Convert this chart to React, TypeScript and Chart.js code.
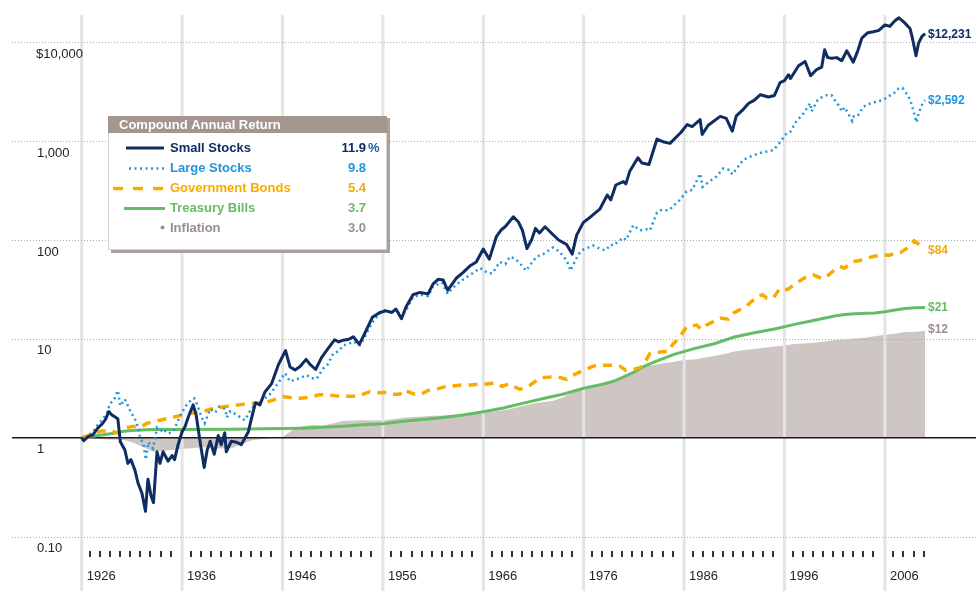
import React, { useEffect, useRef } from "react";
import { Chart, registerables } from "chart.js";

Chart.register(...registerables);

const FONT = "'Liberation Sans', Arial, Helvetica, sans-serif";

// ---- Data: [year position, growth of $1] ----
const smallStocks: [number, number][] = [
  [1926.0, 1.0], [1926.2, 0.93], [1926.6, 1.02], [1927.1, 1.07], [1927.6, 1.25], [1928.1, 1.4],
  [1928.4, 1.55], [1928.7, 1.84], [1929.0, 1.7], [1929.3, 1.63], [1929.6, 1.55], [1929.85, 0.91],
  [1930.3, 0.75], [1930.6, 0.55], [1930.9, 0.6], [1931.3, 0.47], [1931.6, 0.35], [1932.0, 0.275],
  [1932.35, 0.18], [1932.6, 0.38], [1932.9, 0.26], [1933.15, 0.22], [1933.5, 0.72], [1933.8, 0.55],
  [1934.1, 0.72], [1934.6, 0.58], [1935.0, 0.66], [1935.25, 0.6], [1935.6, 0.85], [1936.0, 1.15],
  [1936.3, 1.3], [1936.6, 1.6], [1937.1, 2.15], [1937.4, 1.7], [1937.8, 0.9], [1938.2, 0.5],
  [1938.5, 0.75], [1938.8, 0.92], [1939.2, 0.68], [1939.6, 1.05], [1939.9, 0.85], [1940.25, 1.12],
  [1940.4, 0.72], [1940.9, 0.92], [1941.4, 0.9], [1941.9, 0.85], [1942.2, 0.97], [1942.6, 1.15],
  [1942.9, 1.55], [1943.3, 2.25], [1943.75, 2.15], [1944.25, 2.9], [1944.9, 3.5], [1945.6, 5.5],
  [1946.3, 7.6], [1946.75, 5.2], [1947.25, 4.85], [1947.75, 5.25], [1948.35, 6.2], [1948.75, 5.5],
  [1949.3, 4.9], [1949.9, 6.5], [1950.55, 8.0], [1951.2, 9.8], [1951.6, 9.3], [1952.05, 9.7],
  [1952.6, 9.9], [1953.05, 10.5], [1953.65, 8.8], [1954.2, 11.4], [1954.95, 16.5], [1955.7, 18.5],
  [1956.3, 19.2], [1956.9, 18.5], [1957.3, 20.0], [1957.85, 16.0], [1958.3, 21], [1959.0, 28],
  [1959.7, 29.5], [1960.5, 28.5], [1961.0, 36], [1961.5, 40], [1962.0, 39.5], [1962.45, 31],
  [1963.3, 41], [1964.0, 47], [1964.7, 55], [1965.3, 60], [1966.0, 81], [1966.6, 64],
  [1967.3, 108], [1967.8, 127], [1968.2, 137], [1969.0, 172], [1969.5, 152], [1969.9, 125],
  [1970.35, 82], [1970.8, 100], [1971.2, 131], [1971.6, 118], [1972.15, 136], [1972.8, 117],
  [1973.5, 100], [1974.3, 90], [1974.85, 72], [1975.3, 112], [1975.95, 150], [1976.8, 175],
  [1977.6, 205], [1978.35, 285], [1978.7, 255], [1979.2, 360], [1979.95, 390], [1980.2, 370],
  [1980.6, 500], [1981.4, 680], [1981.8, 600], [1982.5, 580], [1983.3, 1050], [1984.0, 980],
  [1984.6, 950], [1985.7, 1230], [1986.3, 1470], [1986.8, 1400], [1987.6, 1650], [1987.8, 1170],
  [1988.4, 1450], [1989.6, 1780], [1990.2, 1700], [1990.8, 1260], [1991.2, 1800], [1991.9, 2100],
  [1992.4, 2400], [1993.0, 2600], [1993.6, 2950], [1994.4, 2800], [1995.0, 2900], [1995.55, 3900],
  [1996.0, 4100], [1996.4, 4700], [1996.6, 4300], [1997.4, 5800], [1998.05, 6400], [1998.6, 4600],
  [1999.2, 5300], [1999.7, 5600], [2000.0, 8400], [2000.3, 7000], [2000.7, 6900], [2001.2, 7000],
  [2001.7, 6500], [2002.2, 8200], [2002.85, 6300], [2003.3, 8200], [2003.7, 11000], [2004.3, 12500],
  [2004.85, 12800], [2005.4, 13200], [2006.0, 15000], [2006.5, 14500], [2007.0, 16500], [2007.4, 17700],
  [2007.9, 16000], [2008.5, 13800], [2008.7, 11500], [2009.1, 7300], [2009.35, 9800], [2009.7, 11500],
  [2010.0, 12231],
];

const largeStocks: [number, number][] = [
  [1926.0, 1.0], [1926.3, 0.95], [1926.8, 1.08], [1927.15, 1.15], [1927.6, 1.35], [1928.0, 1.5],
  [1928.5, 1.75], [1928.8, 2.2], [1929.2, 2.4], [1929.6, 3.0], [1929.85, 2.1], [1930.3, 2.45],
  [1930.8, 1.9], [1931.2, 1.6], [1931.45, 1.45], [1931.8, 1.03], [1932.15, 0.85], [1932.4, 0.6],
  [1932.65, 0.9], [1933.1, 0.78], [1933.5, 1.25], [1933.8, 1.15], [1934.1, 1.22], [1934.6, 1.1],
  [1935.1, 1.15], [1935.6, 1.5], [1936.3, 2.06], [1936.95, 2.45], [1937.2, 2.5], [1937.45, 2.23],
  [1937.95, 1.6], [1938.25, 1.4], [1938.8, 1.95], [1939.3, 1.8], [1939.7, 2.06], [1940.3, 1.95],
  [1940.45, 1.6], [1940.8, 1.85], [1941.45, 1.7], [1942.25, 1.5], [1942.75, 1.85], [1943.4, 2.25],
  [1944.05, 2.4], [1944.75, 2.75], [1945.6, 3.6], [1946.25, 4.5], [1946.75, 3.7], [1947.3, 3.9],
  [1947.75, 4.0], [1948.4, 4.3], [1948.9, 4.0], [1949.4, 3.95], [1950.05, 5.0], [1950.5, 5.5],
  [1951.05, 7.1], [1951.6, 7.5], [1952.05, 8.6], [1952.6, 8.9], [1953.05, 9.4], [1953.7, 8.6],
  [1954.2, 10.5], [1954.7, 13.3], [1955.2, 16], [1956.05, 19.6], [1956.7, 18.8], [1957.3, 20],
  [1957.85, 16.5], [1958.5, 21], [1959.0, 26.5], [1959.7, 28], [1960.5, 27], [1961.0, 34],
  [1961.9, 37], [1962.45, 28.5], [1963.0, 33], [1963.7, 38], [1964.7, 44.5], [1965.7, 52],
  [1966.5, 46], [1966.9, 46], [1967.65, 60], [1968.2, 57], [1968.65, 68], [1969.2, 64],
  [1969.65, 58], [1970.25, 49], [1970.9, 60], [1971.3, 68], [1971.9, 71], [1972.95, 84],
  [1973.6, 76], [1974.3, 62], [1974.7, 49], [1974.95, 56], [1975.5, 72], [1975.95, 80],
  [1976.95, 88], [1977.8, 80], [1978.2, 79], [1978.7, 90], [1978.95, 88], [1979.95, 106],
  [1980.2, 100], [1980.95, 141], [1981.6, 125], [1982.3, 128], [1982.6, 125], [1983.3, 190],
  [1983.65, 200], [1984.5, 200], [1984.9, 220], [1985.5, 250], [1986.25, 310], [1986.8, 320],
  [1987.6, 470], [1987.85, 345], [1988.5, 390], [1989.25, 440], [1989.9, 530], [1990.55, 510],
  [1990.8, 460], [1991.9, 650], [1992.5, 690], [1993.55, 760], [1994.9, 810], [1995.5, 960],
  [1996.2, 1200], [1996.6, 1250], [1997.2, 1600], [1997.8, 1850], [1998.55, 2420], [1998.7, 2000],
  [1999.3, 2600], [1999.85, 2840], [2000.35, 2950], [2000.7, 2900], [2001.0, 2600], [2001.5, 2230],
  [2001.7, 2000], [2002.0, 2200], [2002.5, 1780], [2002.75, 1600], [2002.9, 1780], [2003.3, 1800],
  [2003.85, 2230], [2004.5, 2400], [2005.2, 2520], [2005.8, 2600], [2006.35, 2840], [2006.9, 3050],
  [2007.2, 3360], [2007.75, 3450], [2008.0, 3200], [2008.5, 2650], [2008.8, 2100], [2009.15, 1550],
  [2009.3, 1800], [2009.6, 2250], [2010.0, 2592],
];

const governmentBonds: [number, number][] = [
  [1926.0, 1.0], [1927.0, 1.08], [1928.0, 1.17], [1929.0, 1.17], [1929.5, 1.12], [1930.0, 1.22],
  [1931.0, 1.3], [1932.0, 1.3], [1932.5, 1.4], [1933.5, 1.48], [1935.0, 1.6], [1936.8, 1.77],
  [1938.0, 1.82], [1938.8, 1.94], [1940.8, 2.1], [1942.4, 2.2], [1944.4, 2.28], [1946.1, 2.6],
  [1946.8, 2.55], [1947.75, 2.5], [1948.5, 2.55], [1949.7, 2.72], [1950.7, 2.7], [1951.7, 2.62],
  [1952.5, 2.62], [1953.4, 2.62], [1954.7, 2.92], [1955.6, 2.85], [1956.35, 2.86], [1957.0, 2.74],
  [1957.7, 2.76], [1958.05, 3.05], [1959.1, 2.76], [1959.7, 2.72], [1960.5, 3.0], [1961.2, 3.05],
  [1962.0, 3.25], [1963.65, 3.4], [1964.8, 3.42], [1965.65, 3.5], [1966.5, 3.5], [1967.15, 3.6],
  [1967.9, 3.3], [1968.5, 3.5], [1969.65, 3.08], [1970.65, 3.4], [1971.65, 4.0], [1972.5, 4.1],
  [1973.3, 4.15], [1974.3, 3.9], [1974.95, 4.3], [1975.6, 4.6], [1976.95, 5.3], [1977.6, 5.4],
  [1978.6, 5.4], [1979.6, 5.3], [1980.2, 4.8], [1980.95, 4.9], [1981.6, 5.1], [1981.9, 5.4],
  [1982.6, 7.1], [1983.8, 7.4], [1984.5, 7.5], [1984.8, 8.6], [1985.6, 10.5], [1986.25, 13.3],
  [1987.25, 13.8], [1987.7, 12.5], [1988.25, 13.8], [1989.6, 16.2], [1990.4, 15.8], [1990.9, 18.2],
  [1992.25, 21.6], [1993.25, 26.7], [1993.8, 28], [1994.25, 25.8], [1994.9, 26], [1995.55, 32.5],
  [1996.3, 31.5], [1996.7, 33.7], [1997.9, 41], [1998.85, 44.4], [1999.8, 40.5], [2000.2, 42.7],
  [2001.0, 50], [2001.5, 54], [2002.0, 52], [2002.85, 60.5], [2003.5, 62], [2004.2, 65.5],
  [2005.5, 70.6], [2006.5, 70], [2006.85, 73.6], [2007.6, 75], [2008.2, 82.5], [2008.9, 98],
  [2009.5, 89], [2010.0, 84],
];

const treasuryBills: [number, number][] = [
  [1926, 1.0], [1927, 1.033], [1928, 1.065], [1929, 1.103], [1930, 1.155], [1931, 1.183],
  [1932, 1.196], [1933, 1.207], [1935, 1.212], [1941, 1.22], [1946, 1.237], [1948, 1.248],
  [1950, 1.272], [1952, 1.306], [1954, 1.352], [1956, 1.385], [1958, 1.464], [1960, 1.53],
  [1962, 1.604], [1964, 1.7], [1966, 1.829], [1968, 1.997], [1970, 2.239], [1972, 2.49],
  [1974, 2.764], [1976, 3.159], [1978, 3.489], [1979, 3.74], [1980, 4.128], [1981, 4.592],
  [1982, 5.267], [1983, 5.822], [1985, 6.959], [1987, 7.958], [1989, 8.926], [1991, 10.43],
  [1993, 11.5], [1995, 12.6], [1997, 14.0], [1999, 15.4], [2001, 17.0], [2002, 17.6],
  [2003, 17.9], [2005, 18.3], [2006, 18.8], [2007, 19.6], [2008, 20.3], [2009, 20.6], [2010, 20.7],
];

const inflation: [number, number][] = [
  [1926, 1.0], [1927, 0.985], [1928, 0.965], [1929, 0.955], [1930, 0.957], [1931, 0.899],
  [1932, 0.814], [1933, 0.73], [1934, 0.734], [1935, 0.749], [1936, 0.771], [1937, 0.78],
  [1938, 0.804], [1939, 0.782], [1940, 0.778], [1941, 0.786], [1942, 0.862], [1943, 0.942],
  [1944, 0.972], [1945, 0.993], [1946, 1.015], [1947, 1.199], [1948, 1.307], [1949, 1.343],
  [1950, 1.318], [1951, 1.395], [1952, 1.477], [1953, 1.49], [1954, 1.499], [1955, 1.492],
  [1956, 1.498], [1957, 1.54], [1958, 1.587], [1959, 1.615], [1960, 1.639], [1961, 1.663],
  [1962, 1.674], [1963, 1.695], [1964, 1.723], [1965, 1.743], [1966, 1.777], [1967, 1.836],
  [1968, 1.892], [1969, 1.981], [1970, 2.102], [1971, 2.218], [1972, 2.292], [1973, 2.371],
  [1974, 2.579], [1975, 2.894], [1976, 3.097], [1977, 3.246], [1978, 3.466], [1979, 3.778],
  [1980, 4.281], [1981, 4.812], [1982, 5.242], [1983, 5.445], [1984, 5.652], [1985, 5.875],
  [1986, 6.097], [1987, 6.166], [1988, 6.438], [1989, 6.722], [1990, 7.034], [1991, 7.464],
  [1992, 7.693], [1993, 7.916], [1994, 8.133], [1995, 8.351], [1996, 8.563], [1997, 8.847],
  [1998, 8.998], [1999, 9.143], [2000, 9.389], [2001, 9.707], [2002, 9.857], [2003, 10.092],
  [2004, 10.285], [2005, 10.628], [2006, 10.987], [2007, 11.261], [2008, 11.727], [2009, 11.737],
  [2010, 12.055],
];

const seriesNames = ["Small Stocks", "Large Stocks", "Government Bonds", "Treasury Bills", "Inflation"];
const seriesReturns = ["11.9", "9.8", "5.4", "3.7", "3.0"];
const endLabels = ["$12,231", "$2,592", "$84", "$21", "$12"];
const legendTitle = "Compound Annual Return";

const yTickValues = [10000, 1000, 100, 10, 1, 0.1];
const yTickLabels = ["$10,000", "1,000", "100", "10", "1", "0.10"];
const decadeYears = [1926, 1936, 1946, 1956, 1966, 1976, 1986, 1996, 2006];
const firstTickYear = 1927;
const lastTickYear = 2010;

// ---- Style ----
const NAVY = "#0f2d62";
const BLUE = "#1f96dc";
const ORANGE = "#f8aa00";
const GREEN = "#66bc66";
const GRAYTXT = "#9a908b";
const AREA = "#cdc6c2";
const seriesColors = [NAVY, BLUE, ORANGE, GREEN, GRAYTXT];

const toPoints = (arr: [number, number][]) => arr.map(([x, y]) => ({ x, y }));

function drawGrid(chart: any) {
  const { ctx, chartArea } = chart;
  const xs = chart.scales.x;
  const ys = chart.scales.y;
  ctx.save();
  ctx.strokeStyle = "#e4e4e4";
  ctx.lineWidth = 3;
  decadeYears.forEach((yr) => {
    const px = xs.getPixelForValue(yr);
    ctx.beginPath();
    ctx.moveTo(px, chartArea.top);
    ctx.lineTo(px, chart.height);
    ctx.stroke();
  });
  ctx.strokeStyle = "#9fb0b8";
  ctx.lineWidth = 1;
  ctx.setLineDash([1, 2]);
  yTickValues.forEach((v) => {
    if (v === 1) return;
    const py = Math.round(ys.getPixelForValue(v)) + 0.5;
    ctx.beginPath();
    ctx.moveTo(chartArea.left, py);
    ctx.lineTo(chartArea.right, py);
    ctx.stroke();
  });
  ctx.setLineDash([]);
  const p1 = ys.getPixelForValue(1);
  ctx.strokeStyle = "#1a1a1a";
  ctx.lineWidth = 1.4;
  ctx.beginPath();
  ctx.moveTo(chartArea.left, p1);
  ctx.lineTo(chartArea.right, p1);
  ctx.stroke();
  ctx.restore();
}

function drawAxisText(chart: any) {
  const { ctx } = chart;
  const xs = chart.scales.x;
  const ys = chart.scales.y;
  ctx.save();
  ctx.font = `13px ${FONT}`;
  ctx.fillStyle = "#222";
  ctx.textBaseline = "middle";
  ctx.textAlign = "left";
  yTickValues.forEach((v, i) => {
    ctx.fillText(yTickLabels[i], i === 0 ? 36 : 37, ys.getPixelForValue(v) + 12);
  });
  decadeYears.forEach((yr) => {
    ctx.fillText(String(yr), xs.getPixelForValue(yr) + 5, 576);
  });
  ctx.fillStyle = "#333";
  for (let yr = firstTickYear; yr <= lastTickYear; yr++) {
    if (decadeYears.includes(yr)) continue;
    const px = Math.round(xs.getPixelForValue(yr) - 2.5);
    ctx.fillRect(px, 551, 2, 6);
  }
  // end labels
  ctx.font = `bold 12px ${FONT}`;
  const finals = [smallStocks, largeStocks, governmentBonds, treasuryBills, inflation].map(
    (s) => s[s.length - 1][1]
  );
  const offs = [1, 0, 3, 0, -1];
  finals.forEach((v, i) => {
    ctx.fillStyle = seriesColors[i];
    ctx.fillText(endLabels[i], 928, ys.getPixelForValue(v) + offs[i]);
  });
  ctx.restore();
}

function drawLegend(chart: any) {
  const { ctx } = chart;
  const L = 108, T = 116, R = 387, B = 250;
  ctx.save();
  ctx.fillStyle = "#aaa19c";
  ctx.fillRect(L + 3, T + 2, R - L, B - T + 1);
  ctx.fillStyle = "#ffffff";
  ctx.fillRect(L, T, R - L, B - T);
  ctx.strokeStyle = "#d6d0cd";
  ctx.lineWidth = 1;
  ctx.strokeRect(L + 0.5, T + 0.5, R - L - 1, B - T - 1);
  ctx.fillStyle = "#a2968f";
  ctx.fillRect(L, T, R - L, 17);
  ctx.textBaseline = "middle";
  ctx.textAlign = "left";
  ctx.font = `bold 13px ${FONT}`;
  ctx.fillStyle = "#ffffff";
  ctx.fillText(legendTitle, 119, T + 9);

  const rows = [148, 168.5, 188.5, 208.5, 228.5];
  // samples
  ctx.lineCap = "butt";
  // small
  ctx.strokeStyle = NAVY; ctx.lineWidth = 3;
  ctx.beginPath(); ctx.moveTo(126, rows[0]); ctx.lineTo(164, rows[0]); ctx.stroke();
  // large dotted
  ctx.strokeStyle = BLUE; ctx.lineWidth = 2.5; ctx.setLineDash([2, 3.5]);
  ctx.beginPath(); ctx.moveTo(129, rows[1]); ctx.lineTo(166, rows[1]); ctx.stroke();
  // bonds dashed
  ctx.strokeStyle = ORANGE; ctx.lineWidth = 3.5; ctx.setLineDash([10, 10]);
  ctx.beginPath(); ctx.moveTo(113, rows[2]); ctx.lineTo(164, rows[2]); ctx.stroke();
  ctx.setLineDash([]);
  // bills
  ctx.strokeStyle = GREEN; ctx.lineWidth = 3;
  ctx.beginPath(); ctx.moveTo(124, rows[3]); ctx.lineTo(165, rows[3]); ctx.stroke();
  // inflation dot
  ctx.fillStyle = GRAYTXT;
  ctx.beginPath(); ctx.arc(162.5, rows[4] - 1, 2, 0, Math.PI * 2); ctx.fill();

  ctx.font = `bold 13px ${FONT}`;
  seriesNames.forEach((n, i) => {
    ctx.fillStyle = seriesColors[i];
    ctx.textAlign = "left";
    ctx.fillText(n, 170, rows[i]);
    ctx.textAlign = "right";
    ctx.fillText(seriesReturns[i], 366, rows[i]);
  });
  ctx.textAlign = "left";
  ctx.fillStyle = "#2a5c9c";
  ctx.fillText("%", 368, rows[0]);
  ctx.restore();
}

const decorPlugin = {
  id: "decor",
  afterDatasetDraw(chart: any, args: any) {
    if (args.index === 4) drawGrid(chart);
  },
  afterDraw(chart: any) {
    drawAxisText(chart);
    drawLegend(chart);
  },
};

export default function App() {
  const ref = useRef<HTMLCanvasElement | null>(null);
  useEffect(() => {
    if (!ref.current) return;
    const chart = new Chart(ref.current, {
      type: "line",
      data: {
        datasets: [
          {
            label: seriesNames[0], data: toPoints(smallStocks), borderColor: NAVY, borderWidth: 3,
            pointRadius: 0, tension: 0, fill: false, order: 1, borderJoinStyle: "round",
          },
          {
            label: seriesNames[1], data: toPoints(largeStocks), borderColor: BLUE, borderWidth: 2.5,
            borderDash: [2, 3.5], pointRadius: 0, tension: 0, fill: false, order: 2,
          },
          {
            label: seriesNames[2], data: toPoints(governmentBonds), borderColor: ORANGE, borderWidth: 3.5,
            borderDash: [9, 7], pointRadius: 0, tension: 0, fill: false, order: 3,
          },
          {
            label: seriesNames[3], data: toPoints(treasuryBills), borderColor: GREEN, borderWidth: 3,
            pointRadius: 0, tension: 0, fill: false, order: 4,
          },
          {
            label: seriesNames[4], data: toPoints(inflation), borderColor: AREA, borderWidth: 0,
            backgroundColor: AREA, pointRadius: 0, tension: 0, fill: { value: 1 }, order: 5,
          },
        ] as any,
      },
      options: {
        responsive: false,
        maintainAspectRatio: false,
        animation: false,
        devicePixelRatio: 1,
        layout: { padding: { left: 12, right: 0, top: 15, bottom: 0 } },
        plugins: { legend: { display: false }, tooltip: { enabled: false } },
        scales: {
          x: { type: "linear", min: 1919.058, max: 2015.074, display: false },
          y: { type: "logarithmic", min: 0.02812, max: 18889, display: false },
        },
      } as any,
      plugins: [decorPlugin],
    });
    return () => chart.destroy();
  }, []);
  return (
    <div style={{ position: "fixed", left: 0, top: 0, width: 976, height: 591, background: "#fff" }}>
      <canvas ref={ref} width={976} height={591} style={{ display: "block" }} />
    </div>
  );
}
